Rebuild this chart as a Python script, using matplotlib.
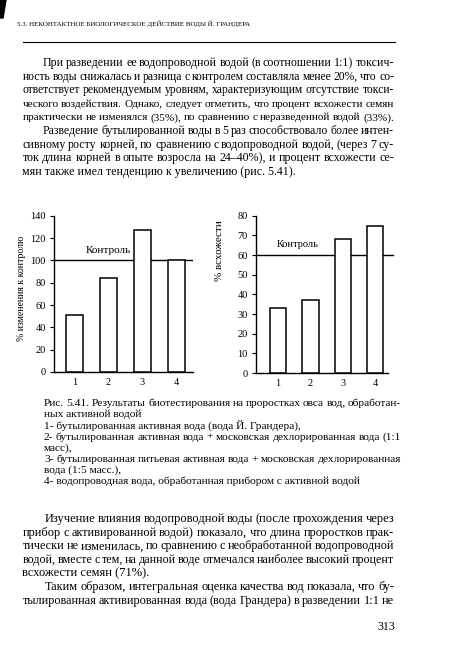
import matplotlib
matplotlib.use('Agg')
import matplotlib.pyplot as plt
from matplotlib.patches import Polygon
from matplotlib.lines import Line2D

# ---------------- data ----------------
groups = ['1', '2', '3', '4']
change_pct = [51, 84, 127, 100]        # % изменения к контролю
control_change = 100
germination_pct = [33, 37, 68, 75]     # % всхожести
control_germ = 60
left_yticks = [0, 20, 40, 60, 80, 100, 120, 140]
right_yticks = [0, 10, 20, 30, 40, 50, 60, 70, 80]

header = "5.3. НЕКОНТАКТНОЕ БИОЛОГИЧЕСКОЕ ДЕЙСТВИЕ ВОДЫ Й. ГРАНДЕРА"
top_lines = [
    ("При разведении ее водопроводной водой (в соотношении 1:1) токсич-", True, True),
    ("ность воды снижалась и разница с контролем составляла менее 20%, что со-", False, True),
    ("ответствует рекомендуемым уровням, характеризующим отсутствие токси-", False, True),
    ("ческого воздействия. Однако, следует отметить, что процент всхожести семян", False, True),
    ("практически не изменялся (35%), по сравнению с неразведенной водой (33%).", False, True),
    ("Разведение бутылированной воды в 5 раз способствовало более интен-", True, True),
    ("сивному росту корней, по сравнению с водопроводной водой, (через 7 су-", False, True),
    ("ток длина корней в опыте возросла на 24–40%), и процент всхожести се-", False, True),
    ("мян также имел тенденцию к увеличению (рис. 5.41).", False, False),
]
caption_lines = [
    ("Рис. 5.41. Результаты биотестирования на проростках овса вод, обработан-", True),
    ("ных активной водой", False),
    ("1- бутылированная активная вода (вода Й. Грандера),", False),
    ("2- бутылированная активная вода + московская дехлорированная вода (1:1", True),
    ("масс),", False),
    ("3- бутылированная питьевая активная вода + московская дехлорированная", True),
    ("вода (1:5 масс.),", False),
    ("4- водопроводная вода, обработанная прибором с активной водой", False),
]
bottom_lines = [
    ("Изучение влияния водопроводной воды (после прохождения через", True, True),
    ("прибор с активированной водой) показало, что длина проростков прак-", False, True),
    ("тически не изменилась, по сравнению с необработанной водопроводной", False, True),
    ("водой, вместе с тем, на данной воде отмечался наиболее высокий процент", False, True),
    ("всхожести семян (71%).", False, False),
    ("Таким образом, интегральная оценка качества вод показала, что бу-", True, True),
    ("тылированная активированная вода (вода Грандера) в разведении 1:1 не", False, True),
]
page_number = "313"

# ---------------- figure ----------------
W, H = 450, 665
plt.rcParams['font.family'] = ['Liberation Serif', 'DejaVu Serif']
fig = plt.figure(figsize=(W / 100, H / 100), dpi=100)
fig.patch.set_facecolor('white')
renderer = fig.canvas.get_renderer()


def fx(px):
    return px / W


def fy(py):
    return 1 - py / H


def put_line(text, x0, x1, y, size, justify, min_gap=2.2):
    """y is the visual middle of the lowercase letters (pixels from top)."""
    base = y + 0.26 * size * 100 / 72
    if not justify:
        fig.text(fx(x0), fy(base), text, fontsize=size, ha='left', va='baseline')
        return
    words = text.split(' ')
    objs = [fig.text(0, fy(base), w, fontsize=size, ha='left', va='baseline') for w in words]
    widths = [o.get_window_extent(renderer).width for o in objs]
    total = sum(widths)
    n = max(len(words) - 1, 1)
    gap = (x1 - x0 - total) / n
    if gap < min_gap:
        # shrink the type slightly so the line fits the measure
        scale = (x1 - x0 - min_gap * n) / total
        size = size * scale
        base = y + 0.26 * size * 100 / 72
        for o in objs:
            o.set_fontsize(size)
            o.set_y(fy(base))
        widths = [o.get_window_extent(renderer).width for o in objs]
        total = sum(widths)
        gap = (x1 - x0 - total) / n
    x = x0
    for o, w in zip(objs, widths):
        o.set_x(fx(x))
        x += w + gap


# scan mark in the corner
fig.patches.append(Polygon([[fx(0), fy(0)], [fx(6), fy(0)], [fx(3), fy(18)], [fx(0), fy(18)]],
                           closed=True, transform=fig.transFigure, color='black'))

fig.text(fx(17), fy(24), header, fontsize=5.0, ha='left', va='center')
fig.add_artist(Line2D([fx(23), fx(395)], [fy(42), fy(42)], color='black', lw=0.8,
                      transform=fig.transFigure))

y = 63
for txt, indent, just in top_lines:
    put_line(txt, 43 if indent else 22.5, 394, y, 8.6, just)
    y += 13.6

cy = 403.3
for txt, just in caption_lines:
    put_line(txt, 44, 401, cy, 8.2, just)
    cy += 11.15

by = 519
for txt, indent, just in bottom_lines:
    put_line(txt, 45 if indent else 22.5, 394, by, 9.0, just)
    by += 13.6

fig.text(fx(395), fy(627), page_number, fontsize=8.6, ha='right', va='center')


# ---------------- charts ----------------
def ax_px(l, r, top, bottom):
    return fig.add_axes([fx(l), fy(bottom), (r - l) / W, (bottom - top) / H])


xs = [1, 2, 3, 4]

ax1 = ax_px(54, 193, 215.7, 372)
ax1.bar(xs, change_pct, width=0.5, color='white', edgecolor='black', linewidth=1.1, zorder=3)
ax1.axhline(control_change, color='black', lw=1.0, zorder=2)
ax1.set_xlim(0.397, 4.485)
ax1.set_ylim(0, 140)
ax1.set_yticks(left_yticks)
ax1.set_xticks(xs)
ax1.set_xticklabels(groups)
ax1.text(1.98, 109, 'Контроль', fontsize=8, ha='center', va='center', zorder=4)
ax1.set_ylabel('% изменения к контролю', fontsize=7)
ax1.yaxis.set_label_coords((26 - 54) / 139, (372 - 288) / 156.3)

ax2 = ax_px(256, 388, 215.7, 373)
ax2.bar(xs, germination_pct, width=0.5, color='white', edgecolor='black', linewidth=1.1, zorder=3)
ax2.plot([0.32, 4.55], [control_germ, control_germ], color='black', lw=1.0, zorder=2, clip_on=False)
ax2.set_xlim(0.32, 4.39)
ax2.set_ylim(0, 80)
ax2.set_yticks(right_yticks)
ax2.set_xticks(xs)
ax2.set_xticklabels(groups)
ax2.text(1.62, 65.6, 'Контроль', fontsize=7.5, ha='center', va='center', zorder=4)
ax2.set_ylabel('% всхожести', fontsize=8)
ax2.yaxis.set_label_coords((224 - 256) / 132, (373 - 251) / 157.3)

for ax in (ax1, ax2):
    ax.set_facecolor('none')
    for s in ('top', 'right'):
        ax.spines[s].set_visible(False)
    for s in ('left', 'bottom'):
        ax.spines[s].set_linewidth(1.0)
    ax.tick_params(axis='y', direction='out', length=3, width=0.8, pad=3, labelsize=7.5)
    ax.tick_params(axis='x', length=0, pad=4, labelsize=7.5)

fig.savefig('out.png', dpi=100, facecolor='white')
